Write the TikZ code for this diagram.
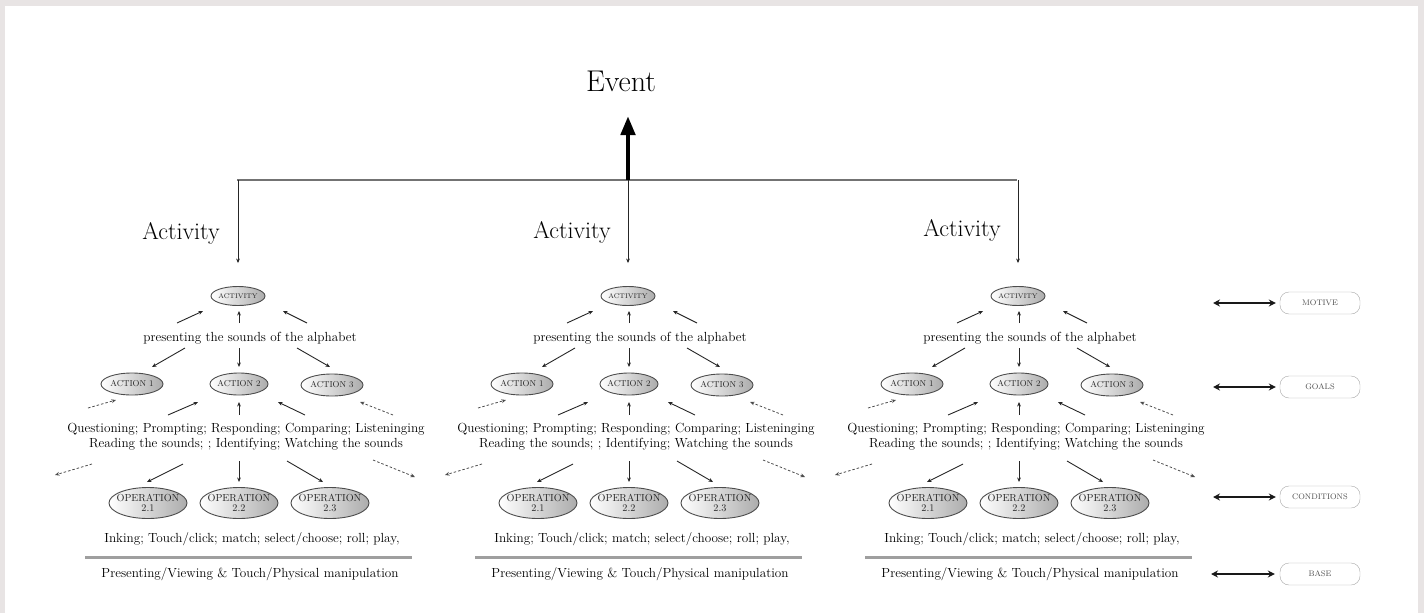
\documentclass[tikz,border=0pt]{standalone}
\usetikzlibrary{arrows.meta,shapes.geometric}
\definecolor{framegray}{RGB}{232,228,228}
\begin{document}
\begin{tikzpicture}[x=1pt,y=-1pt,
  arr/.style={draw=black!85,line width=0.9pt,-{Stealth[length=4.5pt,width=3.8pt]}},
  darr/.style={draw=black!70,line width=0.8pt,dashed,dash pattern=on 2.5pt off 2pt,-{Stealth[length=4.5pt,width=3.8pt]}},
  oval/.style={ellipse,draw=black!70,line width=0.9pt,left color=white,right color=gray!65,inner sep=0pt,
     inner xsep=-16pt,text=black!85,font=\fontsize{6.8}{7}\selectfont,align=center},
  actoval/.style={oval,minimum height=22pt,font=\fontsize{8.6}{9}\selectfont},
  opoval/.style={oval,minimum width=78pt,minimum height=31pt,font=\fontsize{10.2}{9.5}\selectfont},
  treetxt/.style={font=\fontsize{13.2}{15}\selectfont,align=center,inner sep=0pt},
  sidebox/.style={draw=gray!70,rounded corners=9pt,minimum width=80pt,minimum height=22pt,inner sep=0pt,
     text=black!70,font=\fontsize{8}{9}\selectfont},
  sidearr/.style={line width=2.6pt,black!90,{Stealth[length=7pt,width=7pt]}-{Stealth[length=7pt,width=7pt]}},
  toplbl/.style={font=\fontsize{24}{26}\selectfont,inner sep=0pt}
]
\useasboundingbox (0,0) rectangle (1424,613);
% frame
\fill[framegray] (0,0) rectangle (1424,6);
\fill[framegray] (0,0) rectangle (5,613);
\fill[framegray] (1418,0) rectangle (1424,613);

% top
\node[font=\fontsize{30}{32}\selectfont,inner sep=0pt] (event) at (621,81) {Event};
\coordinate (hl) at (237,180);
\coordinate (hr) at (1017,180);
\coordinate (hub) at (628,180);
\draw[black!55,line width=2.4pt] (hl) -- (hr);
\draw[line width=4.5pt,-{Triangle[length=19pt,width=14pt]}] (hub) -- ([shift={(7,35)}]event.center);
\node[toplbl] (lab1) at (181,233) {Activity};
\node[toplbl] (lab2) at (572,232) {Activity};
\node[toplbl] (lab3) at (962,230) {Activity};

\foreach \i/\dx in {1/0,2/390,3/780}{
\begin{scope}[shift={(\dx,0)}]
  \node[oval,minimum width=54pt,minimum height=19pt] (act\i) at (238,296) {ACTIVITY};
  \node[treetxt] (pres\i) at (250,338) {presenting the sounds of the alphabet};
  \node[actoval,minimum width=62pt] (aa\i) at (132,384) {ACTION 1};
  \node[actoval,minimum width=58pt] (ab\i) at (239,384) {ACTION 2};
  \node[actoval,minimum width=62pt] (ac\i) at (332,385) {ACTION 3};
  \node[treetxt] (q\i) at (246,437) {Questioning; Prompting; Responding; Comparing; Listeninging\\Reading the sounds; ; Identifying; Watching the sounds};
  \node[opoval] (oa\i) at (148,503) {OPERATION\\2.1};
  \node[opoval] (ob\i) at (239,503) {OPERATION\\2.2};
  \node[opoval] (oc\i) at (330,503) {OPERATION\\2.3};
  \node[treetxt] (ink\i) at (252,539) {Inking; Touch/click; match; select/choose; roll; play,};
  \node[treetxt] (base\i) at (250,574) {Presenting/Viewing \& Touch/Physical manipulation};
  \coordinate (ruleL\i) at (85,557);
  \coordinate (ruleR\i) at (412,557);
  \draw[gray!75,line width=3pt] (ruleL\i) -- (ruleR\i);
  \coordinate (dA\i) at (88,408);
  \coordinate (dC\i) at (393,415);
  \coordinate (dL\i) at (55,475);
  \coordinate (dR\i) at (415,477);
  % pres -> act
  \draw[arr] ([shift={(-73,-15)}]pres\i.center) -- ([shift={(-35,15)}]act\i.center);
  \draw[arr] ([shift={(-11,-15)}]pres\i.center) -- ([shift={(1,15)}]act\i.center);
  \draw[arr] ([shift={(57,-15)}]pres\i.center) -- ([shift={(45,15)}]act\i.center);
  % pres -> actions
  \draw[arr] ([shift={(-65,10)}]pres\i.center) -- ([shift={(20,-17)}]aa\i.center);
  \draw[arr] ([shift={(-11,10)}]pres\i.center) -- ([shift={(0,-17)}]ab\i.center);
  \draw[arr] ([shift={(47,10)}]pres\i.center) -- ([shift={(-2,-18)}]ac\i.center);
  % q -> actions
  \draw[darr] (dA\i) -- ([shift={(-16,16)}]aa\i.center);
  \draw[arr] ([shift={(-78,-22)}]q\i.center) -- ([shift={(-41,18)}]ab\i.center);
  \draw[arr] ([shift={(-7,-22)}]q\i.center) -- ([shift={(0,18)}]ab\i.center);
  \draw[arr] ([shift={(59,-22)}]q\i.center) -- ([shift={(39,18)}]ab\i.center);
  \draw[darr] (dC\i) -- ([shift={(28,17)}]ac\i.center);
  % q -> operations
  \draw[darr] ([shift={(-154,27)}]q\i.center) -- (dL\i);
  \draw[arr] ([shift={(-63,27)}]q\i.center) -- ([shift={(-1,-21)}]oa\i.center);
  \draw[arr] ([shift={(-7,24)}]q\i.center) -- ([shift={(0,-21)}]ob\i.center);
  \draw[arr] ([shift={(41,24)}]q\i.center) -- ([shift={(-7,-21)}]oc\i.center);
  \draw[darr] ([shift={(127,23)}]q\i.center) -- (dR\i);
\end{scope}
}
% event -> activities
\draw[arr,shorten >=23pt] (act1.north |- hl) -- (act1.north);
\draw[arr,shorten >=23pt] (act2.north |- hl) -- (act2.north);
\draw[arr,shorten >=23pt] (act3.north |- hl) -- (act3.north);

% side legend
\node[sidebox] (motive) at (1320,303) {MOTIVE};
\node[sidebox] (goals) at (1320,387) {GOALS};
\node[sidebox] (cond) at (1320,497) {CONDITIONS};
\node[sidebox] (basebox) at (1320,574) {BASE};
\coordinate (sm) at (1213,303);
\coordinate (sg) at (1213,387);
\coordinate (sc) at (1213,497);
\coordinate (sb) at (1211,574);
\draw[sidearr,shorten >=4pt] (sm) -- (motive.west);
\draw[sidearr,shorten >=4pt] (sg) -- (goals.west);
\draw[sidearr,shorten >=4pt] (sc) -- (cond.west);
\draw[sidearr,shorten >=5pt] (sb) -- (basebox.west);
\end{tikzpicture}
\end{document}
